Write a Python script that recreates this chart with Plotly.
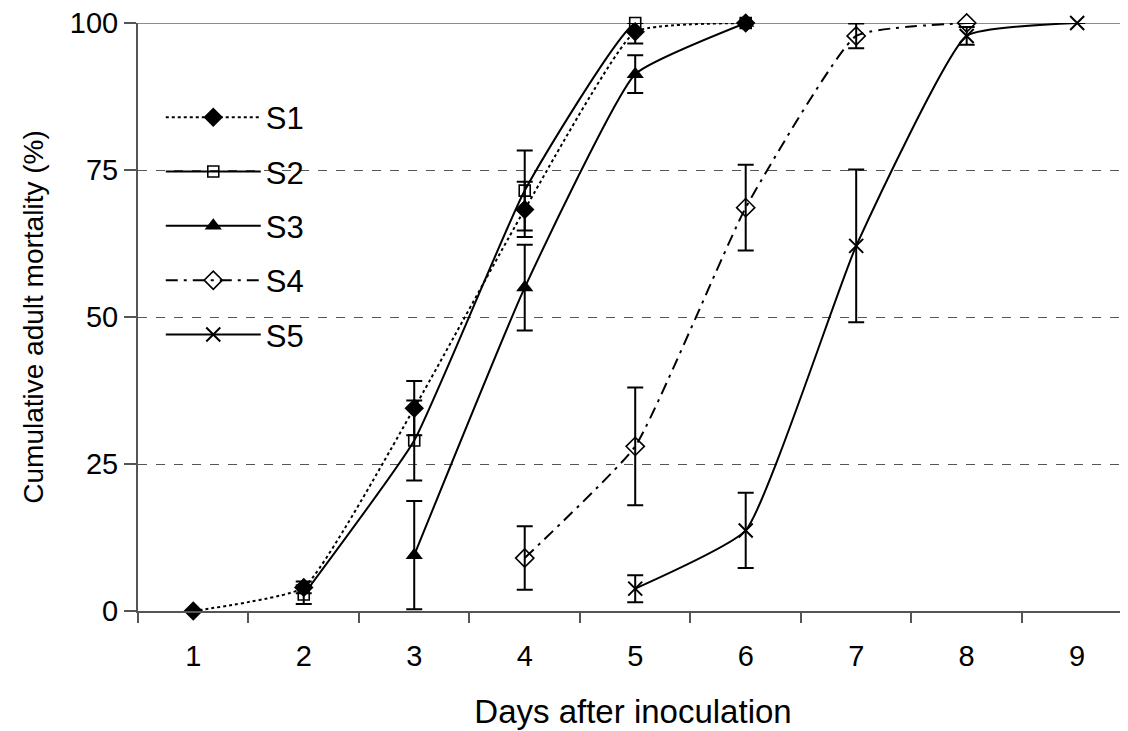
import plotly.graph_objects as go

days = [1, 2, 3, 4, 5, 6, 7, 8, 9]

s1_x = [1, 2, 3, 4, 5, 6]
s1_y = [0, 4.0, 34.5, 68.3, 98.5, 100]
s1_err = [0, 1.0, 4.6, 4.7, 2.0, 0]

s2_x = [2, 3, 4, 5, 6]
s2_y = [2.8, 29.0, 71.5, 100, 100]
s2_err = [1.6, 6.8, 6.8, 0, 0]

s3_x = [3, 4, 5, 6]
s3_y = [9.5, 55.0, 91.3, 100]
s3_err = [9.2, 7.3, 3.2, 0]

s4_x = [4, 5, 6, 7, 8]
s4_y = [9.0, 28.0, 68.6, 97.8, 100]
s4_err = [5.4, 10.0, 7.3, 2.1, 0]

s5_x = [5, 6, 7, 8, 9]
s5_y = [3.8, 13.7, 62.1, 97.8, 100]
s5_err = [2.3, 6.4, 13.0, 1.5, 0]

yticks = [0, 25, 50, 75, 100]

FONT = "Arial, 'Liberation Sans', sans-serif"

series = [
    ("S1", s1_x, s1_y, s1_err, dict(dash="dot"), dict(symbol="diamond", size=15, color="black")),
    ("S2", s2_x, s2_y, s2_err, dict(dash="solid"),
     dict(symbol="square-open", size=11, color="black", line=dict(width=1.6, color="black"))),
    ("S3", s3_x, s3_y, s3_err, dict(dash="solid"), dict(symbol="triangle-up", size=15, color="black")),
    ("S4", s4_x, s4_y, s4_err, dict(dash="12px,6px,3px,6px"),
     dict(symbol="diamond-open", size=14, color="black", line=dict(width=1.6, color="black"))),
    ("S5", s5_x, s5_y, s5_err, dict(dash="solid"),
     dict(symbol="x-thin", size=14, color="black", line=dict(width=2, color="black"))),
]

fig = go.Figure()
for name, xs, ys, es, ln, mk in series:
    fig.add_trace(go.Scatter(
        x=xs, y=ys, name=name, mode="lines+markers",
        line=dict(color="black", width=2, shape="spline", smoothing=0.4, **ln),
        marker=mk,
        error_y=dict(type="data", array=es, visible=True, color="black", thickness=2, width=8),
        legendgroup=name,
        cliponaxis=False,
    ))

fig.add_shape(type="line", xref="paper", yref="y", x0=0, x1=1, y0=100, y1=100,
              line=dict(color="#8c8c8c", width=2), layer="below")

fig.update_layout(
    width=1120, height=723,
    margin=dict(l=130, r=0, t=15, b=120),
    paper_bgcolor="white", plot_bgcolor="white",
    font=dict(family=FONT, size=29, color="black"),
    showlegend=True,
    legend=dict(x=0.023, y=0.885, xanchor="left", yanchor="top",
                bgcolor="rgba(0,0,0,0)", font=dict(size=31),
                itemwidth=95, tracegroupgap=11, traceorder="grouped"),
    xaxis=dict(
        range=[0.5, 9.46], tickmode="array", tickvals=days, ticktext=[str(d) for d in days],
        ticks="", showgrid=False, zeroline=False,
        showline=True, linecolor="#555555", linewidth=2,
        minor=dict(tickmode="linear", tick0=0.5, dtick=1, ticks="outside", ticklen=10,
                   tickcolor="#555555", tickwidth=1.5, showgrid=False),
        title=dict(text="Days after inoculation", font=dict(size=33), standoff=29),
        ticklabelstandoff=18, automargin=False,
    ),
    yaxis=dict(
        range=[0, 100], tickmode="array", tickvals=yticks, ticktext=[str(v) for v in yticks],
        ticks="outside", ticklen=12, tickcolor="#555555", tickwidth=1.5,
        showgrid=True, gridcolor="#555555", griddash="dash", gridwidth=1.2,
        zeroline=False, showline=True, linecolor="#555555", linewidth=2,
        ticklabeloverflow="allow", automargin=False,
        title=dict(text="Cumulative adult mortality (%)", font=dict(size=28), standoff=18),
    ),
)

fig.write_html("out.html")
